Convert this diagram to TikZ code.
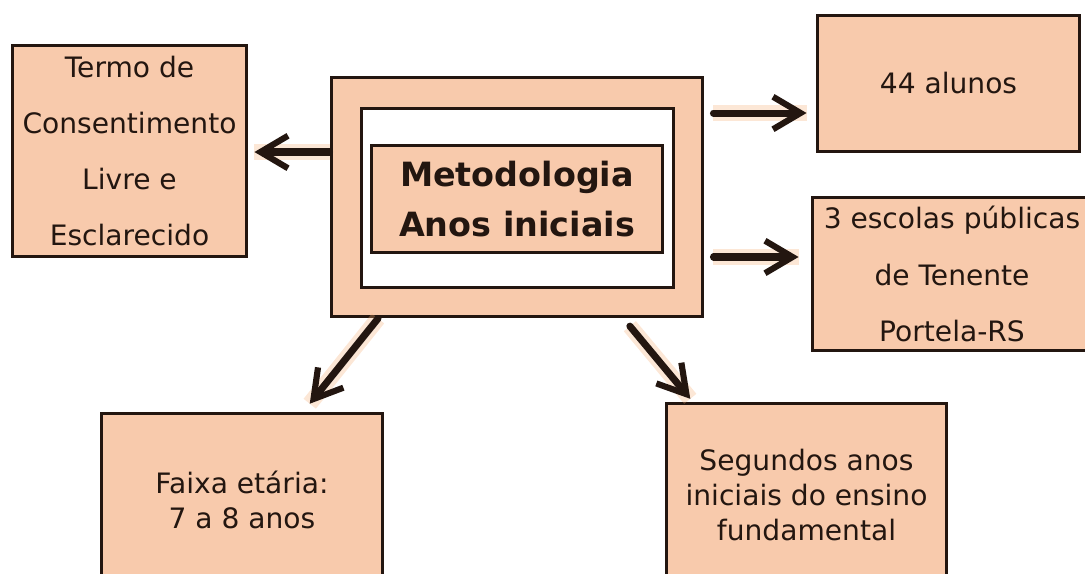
\documentclass[tikz,border=0pt]{standalone}
\usepackage{fontspec}
\setmainfont{DejaVu Sans}
\usetikzlibrary{arrows.meta}
\definecolor{peachfill}{RGB}{248,202,172}
\definecolor{darkline}{RGB}{35,22,16}
\definecolor{glowpeach}{RGB}{245,175,120}

\begin{document}
\begin{tikzpicture}[
        x=0.02cm, y=-0.02cm,
        % peach boxes with a dark outline, text in dark brown
        box/.style={rectangle, draw=darkline, line width=1.7pt, fill=peachfill, text=darkline,
            inner sep=0pt, align=center, font=\fontsize{16}{20}\selectfont},
        widebox/.style={box, font=\fontsize{16}{32}\selectfont},
        arr/.style={-{Straight Barb[length=5.5mm, width=6.5mm, line width=3.5pt]},
            line width=4pt, draw=darkline, line cap=round,
            preaction={draw=glowpeach, opacity=0.3, line width=9pt, arrows=-}}
    ]
        \useasboundingbox (0,0) rectangle (1085,574);
        \clip (0,0) rectangle (1085,574);

        \node[box, minimum width=7.44cm, minimum height=4.8cm] (meto) at (517,197) {};
        \node[box, fill=white, minimum width=6.26cm, minimum height=3.6cm] (inner) at (517.5,198) {};
        \node[box, minimum width=5.84cm, minimum height=2.16cm,
            font=\bfseries\fontsize{19}{28}\selectfont] (title) at (517,199) {Metodologia\\Anos iniciais};

        \node[widebox, minimum width=4.7cm, minimum height=4.24cm] (termo) at (129.5,151)
            {Termo de\\Consentimento\\Livre e\\Esclarecido};
        \node[box, minimum width=5.26cm, minimum height=2.74cm] (alunos) at (948.5,83.5) {44 alunos};
        \node[widebox, minimum width=5.6cm, minimum height=3.06cm] (escolas) at (952,274)
            {3 escolas públicas\\de Tenente\\Portela-RS};
        \node[box, minimum width=5.64cm, minimum height=3.48cm] (faixa) at (242,500)
            {Faixa etária:\\7 a 8 anos};
        \node[box, minimum width=5.62cm, minimum height=3.68cm] (segundos) at (806.5,495)
            {Segundos anos\\iniciais do ensino\\fundamental};

        % Connections
        \draw[arr, shorten >=0.12cm] ([yshift=0.9cm]meto.west) -- ([yshift=0.9cm]meto.west -| termo.east);
        \draw[arr, shorten <=0.18cm, shorten >=0.18cm] ([yshift=1.68cm]meto.east) -- ([yshift=1.68cm]meto.east -| alunos.west);
        \draw[arr, shorten <=0.18cm, shorten >=0.24cm] ([yshift=-1.2cm]meto.east) -- ([yshift=-1.2cm]meto.east -| escolas.west);
        \draw[arr, shorten >=0.2cm] ([xshift=-2.78cm]meto.south) -- ([xshift=1.23cm]faixa.north);
        \draw[arr, shorten <=0.2cm, shorten >=0.07cm] ([xshift=2.13cm]meto.south) -- ([xshift=-2.28cm]segundos.north);
\end{tikzpicture}
\end{document}
